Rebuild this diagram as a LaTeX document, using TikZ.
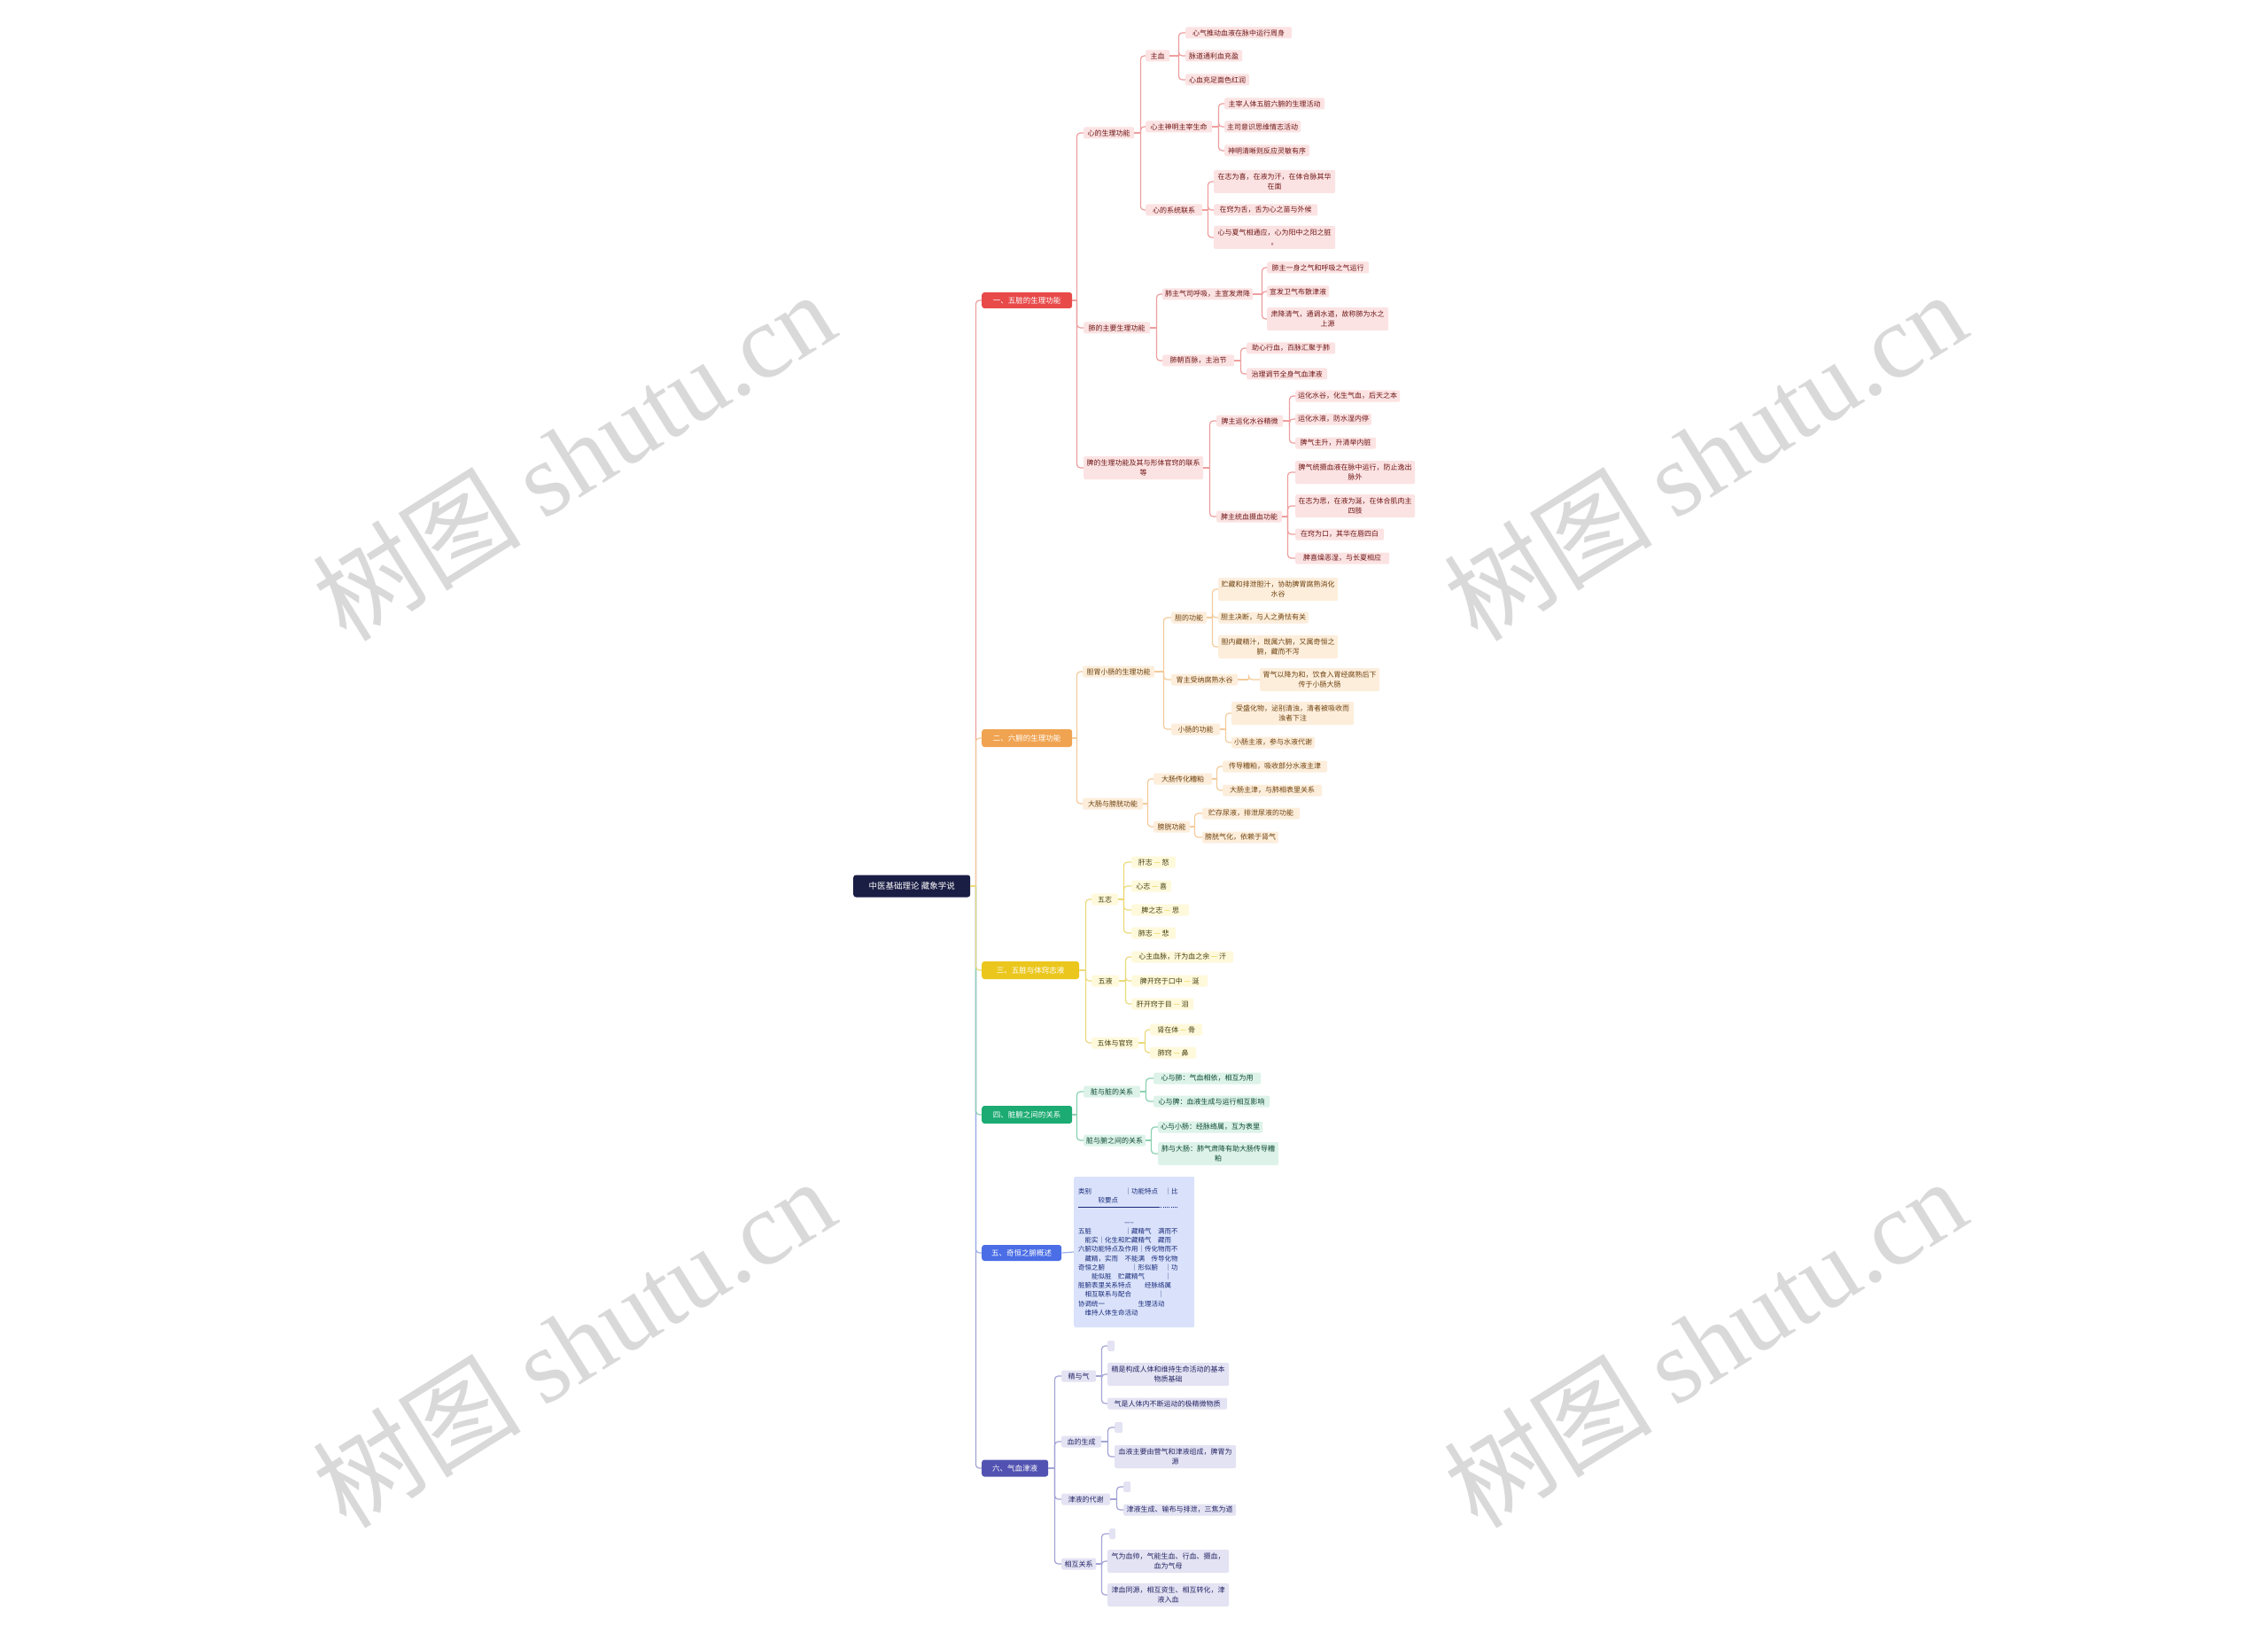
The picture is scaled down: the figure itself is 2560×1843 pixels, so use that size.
\documentclass[tikz,border=0pt]{standalone}
\usepackage{fontspec}
\setmainfont{Noto Sans CJK SC}
\newfontfamily\wmlat{Liberation Serif}
\usetikzlibrary{calc}
\definecolor{rootc}{HTML}{1B1E44}
\definecolor{redmain}{HTML}{E84A4A}\definecolor{redline}{HTML}{EE9E9E}\definecolor{redfill}{HTML}{FCE3E3}\definecolor{redtext}{HTML}{6E1616}
\definecolor{orgmain}{HTML}{F0A350}\definecolor{orgline}{HTML}{F3CB9B}\definecolor{orgfill}{HTML}{FDEEDC}\definecolor{orgtext}{HTML}{6E420E}
\definecolor{yelmain}{HTML}{EBC71E}\definecolor{yelline}{HTML}{EBDA7A}\definecolor{yelfill}{HTML}{FFF9DC}\definecolor{yeltext}{HTML}{45400E}
\definecolor{grnmain}{HTML}{1CAB72}\definecolor{grnline}{HTML}{8AD1B1}\definecolor{grnfill}{HTML}{DDF3E9}\definecolor{grntext}{HTML}{0E4834}
\definecolor{blumain}{HTML}{4B6EE6}\definecolor{bluline}{HTML}{9DB0EB}\definecolor{blufill}{HTML}{D9E2FA}\definecolor{blutext}{HTML}{1A2A7A}
\definecolor{purmain}{HTML}{5252B2}\definecolor{purline}{HTML}{A3A3D6}\definecolor{purfill}{HTML}{E3E3F3}\definecolor{purtext}{HTML}{262666}
\definecolor{wmgray}{HTML}{D9D9D9}
\tikzset{
  leaf/.style={anchor=west, inner xsep=3pt, inner ysep=0pt, rounded corners=2pt, minimum height=13pt, font=\fontsize{8}{11}\selectfont, align=center},
  two/.style={minimum height=26pt},
  mainn/.style={anchor=west, inner xsep=4pt, inner ysep=0pt, rounded corners=3pt, minimum height=19pt, text=white, font=\fontsize{8.5}{10}\selectfont},
  redn/.style={leaf, fill=redfill, text=redtext},
  orgn/.style={leaf, fill=orgfill, text=orgtext},
  yeln/.style={leaf, fill=yelfill, text=yeltext},
  grnn/.style={leaf, fill=grnfill, text=grntext},
  blun/.style={leaf, fill=blufill, text=blutext},
  purn/.style={leaf, fill=purfill, text=purtext},
  blank/.style={minimum height=12pt, inner sep=0pt},
  rline/.style={draw=redline, line width=1.2pt, rounded corners=4pt},
  oline/.style={draw=orgline, line width=1.2pt, rounded corners=4pt},
  yline/.style={draw=yelline, line width=1.2pt, rounded corners=4pt},
  gline/.style={draw=grnline, line width=1.2pt, rounded corners=4pt},
  bline/.style={draw=bluline, line width=1.2pt, rounded corners=4pt},
  pline/.style={draw=purline, line width=1.2pt, rounded corners=4pt},
  wmark/.style={text=wmgray, font=\fontsize{118}{118}\selectfont, rotate=32},
}
\newcommand\conn[4]{%
  \coordinate (#2j) at ($(#2.east)+(#3,0)$);
  \draw[#1] (#2.east) -- (#2j);
  \foreach \cc in {#4}{\draw[#1] (#2j) |- (\cc.west);}%
}
\newcommand\yd{\textcolor{yelmain}{—}}
\begin{document}
\begin{tikzpicture}[x=1pt,y=-1pt]
\fill[white] (0,0) rectangle (2560,1843);
\useasboundingbox (0,0) rectangle (2560,1843);
% watermarks
\node[wmark] (wm1) at (647,514) {树图 {\wmlat shutu.cn}};
\node[wmark] (wm2) at (1924,514) {树图 {\wmlat shutu.cn}};
\node[wmark] (wm3) at (647,1515) {树图 {\wmlat shutu.cn}};
\node[wmark] (wm4) at (1924,1515) {树图 {\wmlat shutu.cn}};
% root
\node[mainn, fill=rootc, minimum width=132pt, minimum height=25pt, font=\fontsize{9.5}{11}\selectfont] (root) at (963,1000) {中医基础理论 藏象学说};
% main nodes
\node[mainn, fill=redmain, minimum width=102pt, minimum height=18pt] (R) at (1108,339) {一、五脏的生理功能};
\node[mainn, fill=orgmain, minimum width=102pt, minimum height=20pt] (O) at (1108,833) {二、六腑的生理功能};
\node[mainn, fill=yelmain, minimum width=110pt, minimum height=20pt] (Y) at (1108,1095) {三、五脏与体窍志液};
\node[mainn, fill=grnmain, minimum width=102pt, minimum height=20pt] (Gm) at (1108,1258) {四、脏腑之间的关系};
\node[mainn, fill=blumain, minimum width=90pt, minimum height=18pt] (Bm) at (1108,1414) {五、奇恒之腑概述};
\node[mainn, fill=purmain, minimum width=75pt, minimum height=19pt] (Pm) at (1108,1657) {六、气血津液};
% root connectors (order sets overlap colour)
\conn{rline}{root}{6}{R}
\conn{oline}{root}{6}{O}
\conn{pline}{root}{6}{Pm}
\conn{bline}{root}{6}{Bm}
\conn{gline}{root}{6}{Gm}
\conn{yline}{root}{6}{Y}
% ===== red =====
\node[redn, minimum width=57pt] (A) at (1223,150) {心的生理功能};
\node[redn, minimum width=27pt] (A1) at (1293,63) {主血};
\node[redn, minimum width=120pt] (A1a) at (1338,37) {心气推动血液在脉中运行周身};
\node[redn, minimum width=64pt] (A1b) at (1338,63) {脉道通利血充盈};
\node[redn, minimum width=72pt] (A1c) at (1338,90) {心血充足面色红润};
\node[redn, minimum width=75pt] (A2) at (1293,143) {心主神明主宰生命};
\node[redn, minimum width=113pt] (A2a) at (1382,117) {主宰人体五脏六腑的生理活动};
\node[redn, minimum width=86pt] (A2b) at (1382,143) {主司意识思维情志活动};
\node[redn, minimum width=96pt] (A2c) at (1382,170) {神明清晰则反应灵敏有序};
\node[redn, minimum width=64pt] (A3) at (1293,237) {心的系统联系};
\node[redn, two, minimum width=137pt] (A3a) at (1370,205) {在志为喜，在液为汗，在体合脉其华\\在面};
\node[redn, minimum width=117pt] (A3b) at (1370,237) {在窍为舌，舌为心之苗与外候};
\node[redn, two, minimum width=137pt] (A3c) at (1370,268) {心与夏气相通应，心为阳中之阳之脏\\。};
\node[redn, minimum width=75pt] (B) at (1223,370) {肺的主要生理功能};
\node[redn, minimum width=101pt] (B1) at (1312,332) {肺主气司呼吸，主宣发肃降};
\node[redn, minimum width=115pt] (B1a) at (1430,302) {肺主一身之气和呼吸之气运行};
\node[redn, minimum width=67pt] (B1b) at (1430,329) {宣发卫气布散津液};
\node[redn, two, minimum width=137pt] (B1c) at (1430,360) {肃降清气，通调水道，故称肺为水之\\上源};
\node[redn, minimum width=81pt] (B2) at (1312,407) {肺朝百脉，主治节};
\node[redn, minimum width=100pt] (B2a) at (1407,393) {助心行血，百脉汇聚于肺};
\node[redn, minimum width=91pt] (B2b) at (1407,422) {治理调节全身气血津液};
\node[redn, two, minimum width=135pt] (C) at (1223,528) {脾的生理功能及其与形体官窍的联系\\等};
\node[redn, minimum width=75pt] (C1) at (1373,475) {脾主运化水谷精微};
\node[redn, minimum width=118pt] (C1a) at (1462,447) {运化水谷，化生气血，后天之本};
\node[redn, minimum width=86pt] (C1b) at (1462,473) {运化水液，防水湿内停};
\node[redn, minimum width=91pt] (C1c) at (1462,500) {脾气主升，升清举内脏};
\node[redn, minimum width=74pt] (C2) at (1373,583) {脾主统血摄血功能};
\node[redn, two, minimum width=135pt] (C2a) at (1462,533) {脾气统摄血液在脉中运行，防止逸出\\脉外};
\node[redn, two, minimum width=135pt] (C2b) at (1462,571) {在志为思，在液为涎，在体合肌肉主\\四肢};
\node[redn, minimum width=100pt] (C2c) at (1462,603) {在窍为口，其华在唇四白};
\node[redn, minimum width=106pt] (C2d) at (1462,630) {脾喜燥恶湿，与长夏相应};
\conn{rline}{R}{5}{A,B,C}
\conn{rline}{A}{7}{A1,A2,A3}
\conn{rline}{A1}{10}{A1a,A1b,A1c}
\conn{rline}{A2}{7}{A2a,A2b,A2c}
\conn{rline}{A3}{6}{A3a,A3b,A3c}
\conn{rline}{B}{7}{B1,B2}
\conn{rline}{B1}{10}{B1a,B1b,B1c}
\conn{rline}{B2}{7}{B2a,B2b}
\conn{rline}{C}{7}{C1,C2}
\conn{rline}{C1}{7}{C1a,C1b,C1c}
\conn{rline}{C2}{6}{C2a,C2b,C2c,C2d}
% ===== orange =====
\node[orgn, minimum width=81pt] (D) at (1222,758) {胆胃小肠的生理功能};
\node[orgn, minimum width=40pt] (D1) at (1322,697) {胆的功能};
\node[orgn, two, minimum width=135pt] (D1a) at (1375,665) {贮藏和排泄胆汁，协助脾胃腐熟消化\\水谷};
\node[orgn, minimum width=100pt] (D1b) at (1375,697) {胆主决断，与人之勇怯有关};
\node[orgn, two, minimum width=135pt] (D1c) at (1375,730) {胆内藏精汁，既属六腑，又属奇恒之\\腑，藏而不泻};
\node[orgn, minimum width=75pt] (D2) at (1322,767) {胃主受纳腐熟水谷};
\node[orgn, two, minimum width=135pt] (D2a) at (1422,767) {胃气以降为和，饮食入胃经腐熟后下\\传于小肠大肠};
\node[orgn, minimum width=55pt] (D3) at (1322,823) {小肠的功能};
\node[orgn, two, minimum width=138pt] (D3a) at (1390,805) {受盛化物，泌别清浊，清者被吸收而\\浊者下注};
\node[orgn, minimum width=92pt] (D3b) at (1390,838) {小肠主液，参与水液代谢};
\node[orgn, minimum width=68pt] (E) at (1222,907) {大肠与膀胱功能};
\node[orgn, minimum width=66pt] (E1) at (1302,879) {大肠传化糟粕};
\node[orgn, minimum width=118pt] (E1a) at (1380,865) {传导糟粕，吸收部分水液主津};
\node[orgn, minimum width=112pt] (E1b) at (1380,892) {大肠主津，与肺相表里关系};
\node[orgn, minimum width=41pt] (E2) at (1302,933) {膀胱功能};
\node[orgn, minimum width=110pt] (E2a) at (1357,918) {贮存尿液，排泄尿液的功能};
\node[orgn, minimum width=86pt] (E2b) at (1357,945) {膀胱气化，依赖于肾气};
\conn{oline}{O}{5}{D,E}
\conn{oline}{D}{10}{D1,D2,D3}
\conn{oline}{D1}{6}{D1a,D1b,D1c}
\conn{oline}{D2}{12}{D2a}
\conn{oline}{D3}{6}{D3a,D3b}
\conn{oline}{E}{5}{E1,E2}
\conn{oline}{E1}{5}{E1a,E1b}
\conn{oline}{E2}{5}{E2a,E2b}
% ===== yellow =====
\node[yeln, minimum width=30pt] (F) at (1232,1015) {五志};
\node[yeln, minimum width=50pt] (F1) at (1277,973) {肝志 \yd{} 怒};
\node[yeln, minimum width=45pt] (F2) at (1277,1000) {心志 \yd{} 喜};
\node[yeln, minimum width=65pt] (F3) at (1277,1027) {脾之志 \yd{} 思};
\node[yeln, minimum width=50pt] (F4) at (1277,1053) {肺志 \yd{} 悲};
\node[yeln, minimum width=31pt] (G) at (1232,1107) {五液};
\node[yeln, minimum width=115pt] (G1) at (1277,1080) {心主血脉，汗为血之余 \yd{} 汗};
\node[yeln, minimum width=86pt] (G2) at (1277,1107) {脾开窍于口中 \yd{} 涎};
\node[yeln, minimum width=70pt] (G3) at (1277,1133) {肝开窍于目 \yd{} 泪};
\node[yeln, minimum width=53pt] (H) at (1232,1177) {五体与官窍};
\node[yeln, minimum width=59pt] (H1) at (1298,1162) {肾在体 \yd{} 骨};
\node[yeln, minimum width=52pt] (H2) at (1298,1188) {肺窍 \yd{} 鼻};
\conn{yline}{Y}{7}{F,G,H}
\conn{yline}{F}{6}{F1,F2,F3,F4}
\conn{yline}{G}{7}{G1,G2,G3}
\conn{yline}{H}{7}{H1,H2}
% ===== green =====
\node[grnn, minimum width=64pt] (I) at (1223,1232) {脏与脏的关系};
\node[grnn, minimum width=121pt] (I1) at (1302,1217) {心与肺：气血相依，相互为用};
\node[grnn, minimum width=131pt] (I2) at (1302,1243) {心与脾：血液生成与运行相互影响};
\node[grnn, minimum width=69pt] (J) at (1223,1287) {脏与腑之间的关系};
\node[grnn, minimum width=116pt] (J1) at (1307,1272) {心与小肠：经脉络属，互为表里};
\node[grnn, two, minimum width=136pt] (J2) at (1307,1302) {肺与大肠：肺气肃降有助大肠传导糟\\粕};
\conn{gline}{Gm}{5}{I,J}
\conn{gline}{I}{6}{I1,I2}
\conn{gline}{J}{6}{J1,J2}
% ===== blue =====
\node[blun, minimum width=136pt, minimum height=170pt, text width=126pt, align=left, inner xsep=5pt, font=\fontsize{7.5}{10.2}\selectfont] (Bx) at (1212,1413) {类别　　　　　｜功能特点　｜比\\
　　　较要点\\[-3pt]
\textcolor{blutext}{\rule[2pt]{92pt}{0.9pt}\,\rule[2pt]{1pt}{0.9pt}\,\rule[2pt]{1pt}{0.9pt}\,\rule[2pt]{1pt}{0.9pt}\,\rule[2pt]{1pt}{0.9pt}\,\rule[2pt]{1pt}{0.9pt}\,\rule[2pt]{1pt}{0.9pt}\,\rule[2pt]{1pt}{0.9pt}\,\rule[2pt]{1pt}{0.9pt}\,\rule[2pt]{1pt}{0.9pt}}\\[7pt]
\hspace{52pt}-----\\
五脏　　　　　｜藏精气　满而不\\
　能实｜化生和贮藏精气　藏而\\
六腑功能特点及作用｜传化物而不\\
　藏精，实而　不能满　传导化物\\
奇恒之腑　　　　｜形似腑　｜功\\
　　能似脏　贮藏精气　　　｜\\
脏腑表里关系特点　　经脉络属\\
　相互联系与配合　　　　｜\\
协调统一　　　　　生理活动\\
　维持人体生命活动};
\draw[bline] (Bm.east) -- (Bx.west);
% ===== purple =====
\node[purn, minimum width=39pt] (K) at (1198,1553) {精与气};
\node[purn, blank, minimum width=8pt] (K0) at (1250,1519) {};
\node[purn, two, minimum width=137pt] (K1) at (1250,1551) {精是构成人体和维持生命活动的基本\\物质基础};
\node[purn, minimum width=135pt] (K2) at (1250,1584) {气是人体内不断运动的极精微物质};
\node[purn, minimum width=45pt] (L) at (1198,1627) {血的生成};
\node[purn, blank, minimum width=9pt] (L0) at (1258,1611) {};
\node[purn, two, minimum width=137pt] (L1) at (1258,1644) {血液主要由营气和津液组成，脾胃为\\源};
\node[purn, minimum width=55pt] (M) at (1198,1692) {津液的代谢};
\node[purn, blank, minimum width=8pt] (M0) at (1268,1678) {};
\node[purn, minimum width=127pt] (M1) at (1268,1704) {津液生成、输布与排泄，三焦为道};
\node[purn, minimum width=39pt] (N) at (1198,1765) {相互关系};
\node[purn, blank, minimum width=7pt] (N0) at (1252,1731) {};
\node[purn, two, minimum width=137pt] (N1) at (1250,1762) {气为血帅，气能生血、行血、摄血，\\血为气母};
\node[purn, two, minimum width=137pt] (N2) at (1250,1800) {津血同源，相互资生、相互转化，津\\液入血};
\conn{pline}{Pm}{7}{K,L,M,N}
\conn{pline}{K}{6}{K0,K1,K2}
\conn{pline}{L}{7}{L0,L1}
\conn{pline}{M}{7}{M0,M1}
\conn{pline}{N}{6}{N0,N1,N2}
\end{tikzpicture}
\end{document}
